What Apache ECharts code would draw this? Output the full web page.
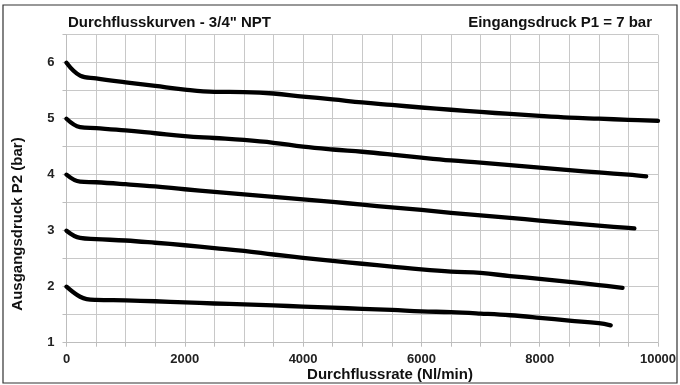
<!DOCTYPE html>
<html>
<head>
<meta charset="utf-8">
<script src="https://cdn.jsdelivr.net/npm/echarts@6/dist/echarts.min.js"></script>
<style>html,body{margin:0;padding:0;background:#fff}#c{width:680px;height:385px}</style>
</head>
<body>
<div id="c"></div>
<script>
var titleLeft = 'Durchflusskurven - 3/4" NPT';
var titleRight = 'Eingangsdruck P1 = 7 bar';
var xName = 'Durchflussrate (Nl/min)';
var yName = 'Ausgangsdruck P2 (bar)';

var flow6 = [0,230,500,1000,1500,2000,2500,3000,3500,4000,4500,5000,5500,6000,6500,7000,7500,8000,8500,9000,9500,10000];
var p6    = [6.0,5.77,5.72,5.65,5.585,5.52,5.48,5.475,5.45,5.395,5.345,5.29,5.245,5.20,5.16,5.12,5.085,5.05,5.02,5.0,4.98,4.96];
var flow5 = [0,230,500,1000,1500,2000,2500,3000,3500,4000,4500,5000,5500,6000,6500,7000,7500,8000,8500,9000,9500,9800];
var p5    = [5.0,4.85,4.83,4.79,4.74,4.69,4.655,4.62,4.57,4.50,4.45,4.41,4.36,4.305,4.255,4.215,4.17,4.125,4.08,4.04,4.0,3.97];
var flow4 = [0,230,500,1000,1500,2000,2500,3000,3500,4000,4500,5000,5500,6000,6500,7000,7500,8000,8500,9000,9500,9600];
var p4    = [4.0,3.875,3.865,3.83,3.79,3.74,3.695,3.65,3.605,3.56,3.515,3.465,3.415,3.37,3.32,3.275,3.23,3.18,3.135,3.09,3.05,3.04];
var flow3 = [0,230,500,1000,1500,2000,2500,3000,3500,4000,4500,5000,5500,6000,6500,7000,7500,8000,8500,9000,9400];
var p3    = [3.0,2.87,2.85,2.825,2.785,2.74,2.69,2.64,2.575,2.515,2.46,2.41,2.36,2.31,2.27,2.245,2.19,2.14,2.085,2.03,1.98];
var flow2 = [0,115,230,340,500,1000,1500,2000,2500,3000,3500,4000,4500,5000,5500,6000,6500,7000,7500,8000,8500,9000,9200];
var p2    = [2.0,1.90,1.82,1.78,1.765,1.755,1.74,1.72,1.70,1.685,1.665,1.645,1.625,1.605,1.585,1.56,1.545,1.52,1.49,1.445,1.395,1.35,1.31];

function pairs(xs, ys){ return xs.map(function(x,i){ return [x, ys[i]]; }); }
var curves = [[flow6,p6],[flow5,p5],[flow4,p4],[flow3,p3],[flow2,p2]];

var FONT = '"Liberation Sans", Arial, Helvetica, sans-serif';
var chart = echarts.init(document.getElementById('c'), null, {renderer:'canvas'});
chart.setOption({
  animation: false,
  backgroundColor: '#fff',
  grid: {left: 66.5, right: 22, top: 34.7, bottom: 42.3},
  xAxis: {
    type: 'value', min: 0, max: 10000, interval: 500,
    axisLine: {show: true, lineStyle: {color: '#bdbdbd', width: 1}},
    axisTick: {show: true, length: 4, lineStyle: {color: '#bdbdbd'}},
    splitLine: {show: true, lineStyle: {color: '#c8c8c8', width: 1}},
    axisLabel: {
      margin: 10, color: '#222', fontFamily: FONT, fontWeight: 'bold', fontSize: 13,
      formatter: function(v){ return v % 2000 === 0 ? String(v) : ''; },
      showMaxLabel: true
    }
  },
  yAxis: {
    type: 'value', min: 1, max: 6.5, interval: 0.5,
    axisLine: {show: true, lineStyle: {color: '#bdbdbd', width: 1}},
    axisTick: {show: true, length: 4, lineStyle: {color: '#bdbdbd'}},
    splitLine: {show: true, lineStyle: {color: '#c8c8c8', width: 1}},
    axisLabel: {
      margin: 12, color: '#222', fontFamily: FONT, fontWeight: 'bold', fontSize: 13,
      formatter: function(v){ return Math.abs(v - Math.round(v)) < 1e-9 ? String(Math.round(v)) : ''; }
    }
  },
  series: curves.map(function(c){
    return {
      type: 'line', data: pairs(c[0], c[1]), showSymbol: false, smooth: 0.4,
      lineStyle: {color: '#000', width: 4.3, cap: 'round', join: 'round'}
    };
  }),
  graphic: [
    {type: 'rect', shape: {x: 3, y: 5, width: 674, height: 378}, style: {fill: 'none', stroke: '#333', lineWidth: 1.2}, silent: true, z: 100},
    {type: 'text', x: 68, y: 23, style: {text: titleLeft, font: 'bold 15px ' + FONT, fill: '#111', verticalAlign: 'middle'}},
    {type: 'text', x: 652, y: 23, style: {text: titleRight, font: 'bold 15px ' + FONT, fill: '#111', align: 'right', verticalAlign: 'middle'}},
    {type: 'text', x: 390, y: 375, style: {text: xName, font: 'bold 15px ' + FONT, fill: '#111', align: 'center', verticalAlign: 'middle'}},
    {type: 'text', x: 18, y: 224, rotation: Math.PI/2, style: {text: yName, font: 'bold 15px ' + FONT, fill: '#111', align: 'center', verticalAlign: 'middle'}}
  ]
});
</script>
</body>
</html>
